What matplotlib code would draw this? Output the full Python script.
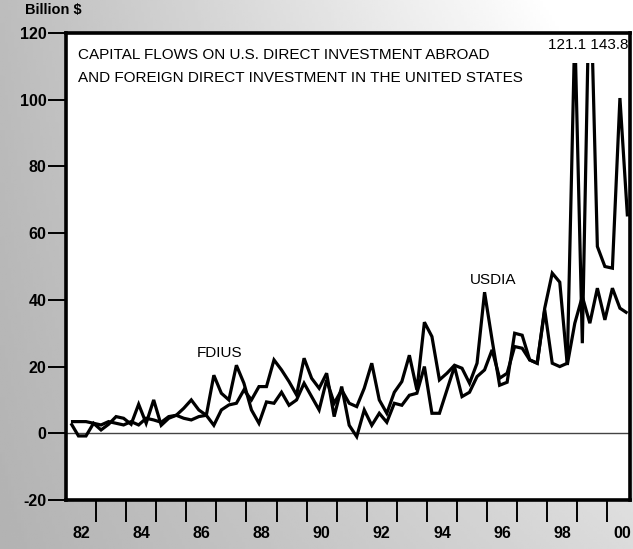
import numpy as np
import matplotlib
matplotlib.use("Agg")
import matplotlib.pyplot as plt
from matplotlib import font_manager
from matplotlib.patches import Rectangle
from matplotlib.ticker import FixedLocator, NullFormatter, FixedFormatter

# ---- data (billion $, quarterly 1982Q1 - 2000Q3) ----
start_year = 1982
n_quarters = 75
usdia = [3.0, -0.8, -0.8, 3.0, 1.0, 2.7, 5.0, 4.5, 2.7, 8.7,
         3.0, 10.0, 2.4, 4.5, 5.4, 7.5, 10.0, 7.0, 5.4, 17.4,
         12.0, 10.0, 20.4, 15.0, 7.0, 3.0, 9.4, 9.0, 12.3, 8.4,
         10.0, 15.0, 11.0, 7.0, 16.0, 9.0, 13.0, 9.0, 8.0, 13.5,
         21.0, 10.0, 6.0, 12.3, 15.5, 23.4, 13.0, 33.3, 29.0, 16.0,
         18.0, 20.4, 19.5, 15.0, 21.0, 42.3, 28.0, 14.4, 15.3, 30.0,
         29.4, 22.0, 21.0, 37.5, 48.0, 45.3, 20.5, 33.0, 41.0, 33.0,
         43.5, 34.0, 43.5, 37.5, 36.0]
fdius = [3.5, 3.5, 3.5, 3.0, 2.5, 3.5, 3.0, 2.5, 3.5, 2.5,
         4.5, 4.0, 3.3, 5.0, 5.4, 4.5, 4.0, 5.0, 5.4, 2.4,
         7.0, 8.5, 9.0, 13.0, 10.0, 14.0, 14.0, 22.0, 19.0, 15.5,
         11.5, 22.5, 16.5, 13.5, 18.0, 5.0, 14.0, 2.4, -1.0, 7.0,
         2.4, 6.0, 3.3, 9.0, 8.4, 11.4, 12.0, 20.0, 6.0, 6.0,
         13.0, 20.0, 11.0, 12.3, 17.0, 19.0, 25.0, 16.5, 18.0, 26.0,
         25.5, 22.0, 21.0, 37.0, 21.0, 20.0, 21.0, 121.1, 27.0, 143.8,
         56.0, 50.0, 49.5, 100.5, 65.0]
year_labels = ["82", "84", "86", "88", "90", "92", "94", "96", "98", "00"]
y_ticks = [-20, 0, 20, 40, 60, 80, 100, 120]
title_lines = ["CAPITAL FLOWS ON U.S. DIRECT INVESTMENT ABROAD",
               "AND FOREIGN DIRECT INVESTMENT IN THE UNITED STATES"]
peak_note = "121.1 143.8"

# quarter positions on a decimal-year axis
quarter_x = np.array([start_year + (i // 4) + ((i % 4) + 0.5) / 4 + 0.04
                      for i in range(n_quarters)])

# narrow font for the in-chart texts if available
try:
    font_manager.findfont(font_manager.FontProperties(family="Liberation Sans Narrow"),
                          fallback_to_default=False)
    narrow = ["Liberation Sans Narrow", "DejaVu Sans"]
    nsize = 13.0
except Exception:
    narrow = ["Liberation Sans", "DejaVu Sans"]
    nsize = 11.0
font = ["Liberation Sans", "DejaVu Sans"]

W, H = 633, 549
fig = plt.figure(figsize=(W / 100, H / 100), dpi=100)

# halftone-like background: grey, lighter toward the upper right
gx, gy = np.meshgrid(np.linspace(0, 1, 200), np.linspace(0, 1, 200))
grad = np.clip(0.70 + 0.16 * gx + 0.04 * gy + 0.14 * gx * gy, 0, 1)
bg = fig.add_axes([0, 0, 1, 1], zorder=-10)
bg.imshow(grad, extent=[0, 1, 0, 1], origin="lower", aspect="auto",
          cmap="gray", vmin=0, vmax=1)
bg.axis("off")

L, R, T, B = 66, 630, 33, 500
ax = fig.add_axes([L / W, 1 - B / H, (R - L) / W, (B - T) / H])
ax.set_facecolor("white")
ax.set_xlim(1982, 2000.75)
ax.set_ylim(-20, 120)

clip = Rectangle((1982, -20), 18.75, 131, transform=ax.transData)
for series in (usdia, fdius):
    ln, = ax.plot(quarter_x, series, color="black", lw=2.3,
                  solid_joinstyle="miter", solid_capstyle="butt", zorder=3)
    ln.set_clip_path(clip)

ax.axhline(0, color="#444444", lw=1.0, zorder=2)

for s in ax.spines.values():
    s.set_linewidth(2.6)
    s.set_color("black")

# y axis
ax.set_yticks(y_ticks)
ax.set_yticklabels([str(v) for v in y_ticks], fontweight="bold",
                   fontsize=11.5, family=font)
ax.tick_params(axis="y", direction="out", length=13, width=1.4, pad=1,
               colors="black")

# x axis: ticks at year boundaries, labels centred in even years
ax.xaxis.set_major_locator(FixedLocator(list(range(1983, 2001))))
ax.xaxis.set_major_formatter(NullFormatter())
ax.xaxis.set_minor_locator(FixedLocator([1982.5 + 2 * k for k in range(len(year_labels))]))
ax.xaxis.set_minor_formatter(FixedFormatter(year_labels))
ax.tick_params(axis="x", which="major", direction="out", length=16, width=1.4)
ax.tick_params(axis="x", which="minor", length=0, pad=19, labelsize=11.5)
for lab in ax.get_xticklabels(minor=True):
    lab.set_fontweight("bold")
    lab.set_family(font)

# texts
fig.text(25 / W, 1 - 10 / H, "Billion $", fontsize=10.5, fontweight="bold",
         family=font, va="center", ha="left")
ax.text((78 - L) / (R - L), (B - 55) / (B - T), title_lines[0], transform=ax.transAxes,
        fontsize=nsize, family=narrow, va="center", ha="left")
ax.text((78 - L) / (R - L), (B - 78) / (B - T), title_lines[1], transform=ax.transAxes,
        fontsize=nsize, family=narrow, va="center", ha="left")
ax.text((628 - L) / (R - L), (B - 45) / (B - T), peak_note, transform=ax.transAxes,
        fontsize=nsize, family=narrow, va="center", ha="right")
ax.text(1996.2, 46, "USDIA", fontsize=nsize, family=narrow, ha="center", va="center")
ax.text(1987.1, 24, "FDIUS", fontsize=nsize, family=narrow, ha="center", va="center")

fig.savefig("out.png", dpi=100)
